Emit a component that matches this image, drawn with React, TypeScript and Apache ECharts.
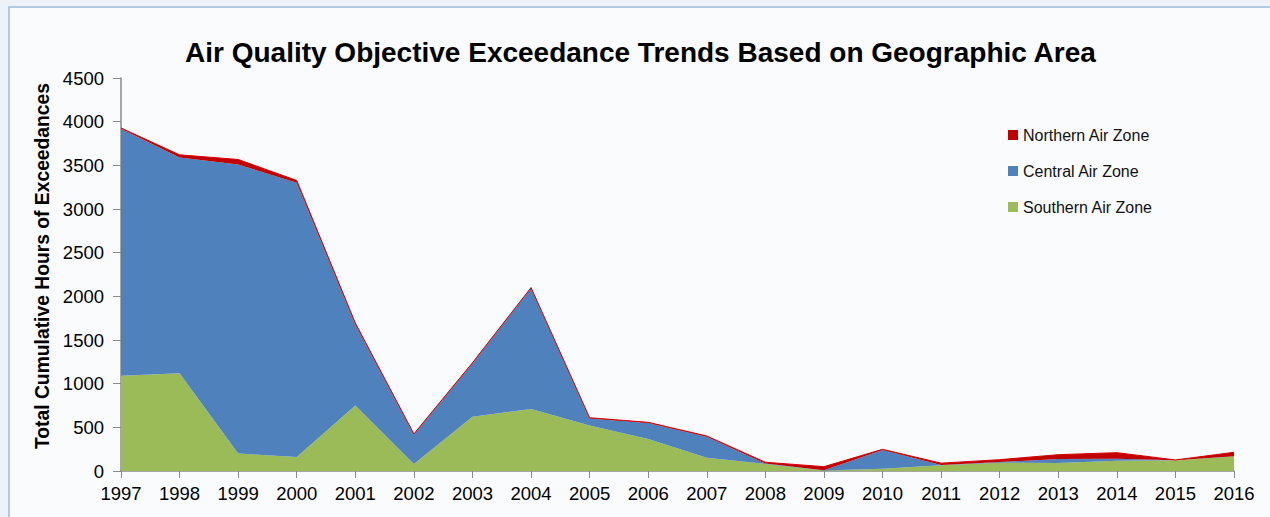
import React, { useEffect, useRef } from "react";
import * as echarts from "echarts";

const years = ["1997","1998","1999","2000","2001","2002","2003","2004","2005","2006","2007","2008","2009","2010","2011","2012","2013","2014","2015","2016"];
const southern = [1090, 1120, 200, 160, 750, 80, 620, 710, 520, 365, 153, 80, 5, 25, 65, 95, 92, 118, 122, 165];
const central = [2830, 2470, 3310, 3140, 930, 335, 610, 1385, 80, 185, 240, 5, 5, 215, 5, 8, 45, 23, 2, 3];
const northern = [8, 30, 57, 27, 15, 10, 10, 5, 10, 7, 8, 15, 40, 8, 20, 27, 50, 69, 3, 46];
const yTicks = [0, 500, 1000, 1500, 2000, 2500, 3000, 3500, 4000, 4500];
const yAxisTitle = "Total Cumulative Hours of Exceedances";

const FONT = "'Liberation Sans', Arial, sans-serif";

export default function App() {
  const ref = useRef<HTMLDivElement>(null);
  useEffect(() => {
    if (!ref.current) return;
    const chart = echarts.init(ref.current, null, { renderer: "svg" });
    chart.setOption({
      animation: false,
      backgroundColor: "#edf2f8",
      textStyle: { fontFamily: FONT },
      graphic: [
        {
          type: "rect",
          z: -10,
          shape: { x: 9, y: 7, width: 1280, height: 530 },
          style: { fill: "#f9fbfd", stroke: "#9fbcdc", lineWidth: 1.5 },
        },
        {
          type: "text",
          x: 42,
          y: 266,
          rotation: Math.PI / 2,
          style: {
            text: yAxisTitle,
            fontFamily: FONT,
            fontSize: 19.3,
            fontWeight: "bold",
            fill: "#000",
            align: "center",
            verticalAlign: "middle",
          },
        },
      ],
      title: {
        text: "Air Quality Objective Exceedance Trends Based on Geographic Area",
        left: 180,
        top: 33,
        textStyle: { fontFamily: FONT, fontSize: 28, fontWeight: "bold", color: "#000" },
      },
      legend: {
        orient: "vertical",
        left: 1008,
        top: 127,
        padding: 0,
        itemWidth: 10,
        itemHeight: 10,
        itemGap: 20,
        icon: "rect",
        data: ["Northern Air Zone", "Central Air Zone", "Southern Air Zone"],
        textStyle: { fontFamily: FONT, fontSize: 16, color: "#111" },
      },
      grid: { left: 121, right: 36, top: 78, bottom: 46 },
      xAxis: {
        type: "category",
        data: years,
        boundaryGap: false,
        axisLine: { lineStyle: { color: "#8a8a8a", width: 1.5 } },
        axisTick: { length: 7, lineStyle: { color: "#8a8a8a" } },
        axisLabel: { fontFamily: FONT, fontSize: 18.5, color: "#000", margin: 13 },
      },
      yAxis: {
        type: "value",
        min: yTicks[0],
        max: yTicks[yTicks.length - 1],
        interval: 500,
        splitLine: { show: false },
        axisLine: { show: true, lineStyle: { color: "#8a8a8a", width: 1.5 } },
        axisTick: { show: true, length: 8, lineStyle: { color: "#8a8a8a" } },
        axisLabel: {
          fontFamily: FONT,
          fontSize: 18.5,
          color: "#000",
          margin: 17,
          formatter: (v: number) => String(v),
        },
      },
      series: [
        {
          name: "Southern Air Zone",
          type: "line",
          stack: "total",
          data: southern,
          symbol: "none",
          lineStyle: { width: 0 },
          itemStyle: { color: "#9bbb59" },
          areaStyle: { color: "#9bbb59", opacity: 1 },
        },
        {
          name: "Central Air Zone",
          type: "line",
          stack: "total",
          data: central,
          symbol: "none",
          lineStyle: { width: 0 },
          itemStyle: { color: "#4f81bd" },
          areaStyle: { color: "#4f81bd", opacity: 1 },
        },
        {
          name: "Northern Air Zone",
          type: "line",
          stack: "total",
          data: northern,
          symbol: "none",
          lineStyle: { width: 1, color: "#d40000" },
          itemStyle: { color: "#c00000" },
          areaStyle: { color: "#c00000", opacity: 1 },
        },
      ],
    });
    return () => chart.dispose();
  }, []);
  return (
    <div
      ref={ref}
      style={{ position: "fixed", left: 0, top: 0, width: 1270, height: 517 }}
    />
  );
}
